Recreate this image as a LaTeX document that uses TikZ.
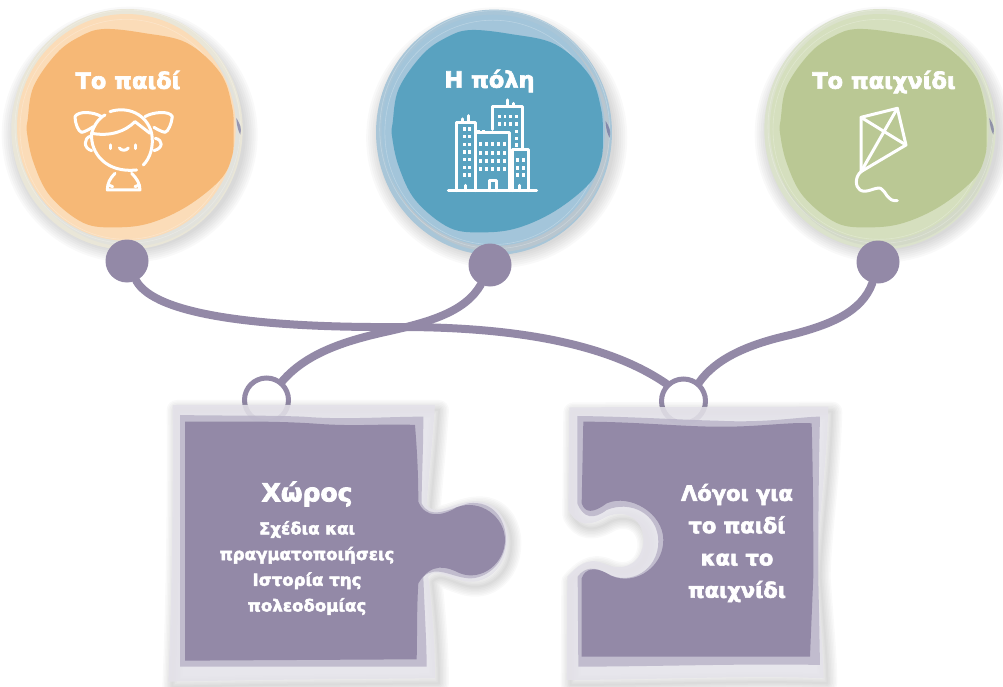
\documentclass[tikz,border=0pt]{standalone}
\usepackage{fontspec}
\setmainfont{DejaVu Sans}[BoldFeatures={FakeBold=3}]
\definecolor{plum}{HTML}{9389A7}
\definecolor{plumMid}{HTML}{BDB8CB}
\definecolor{plumPale}{HTML}{E4E2E9}
\definecolor{orOuter}{HTML}{E9E6D8}
\definecolor{orMid}{HTML}{FBDCB8}
\definecolor{orIn}{HTML}{F6B876}
\definecolor{orBand}{HTML}{E2E2DC}
\definecolor{blOuter}{HTML}{A9C6D8}
\definecolor{blMid}{HTML}{A3C5DA}
\definecolor{blIn}{HTML}{59A2C0}
\definecolor{blBand}{HTML}{B9C6CF}
\definecolor{grOuter}{HTML}{DBE2CC}
\definecolor{grMid}{HTML}{D5DFBE}
\definecolor{grIn}{HTML}{BAC894}
\definecolor{grBand}{HTML}{D3D9C8}
\tikzset{
  dotnode/.style={circle,fill=plum,inner sep=0pt,minimum size=43pt},
  ringnode/.style={circle,draw=plum,line width=5pt,inner sep=0pt,minimum size=44pt},
  link/.style={draw=plum,line width=8pt,line cap=round},
  icon/.style={draw=white,line width=3pt,line cap=round,line join=round},
  win/.style={fill=white,draw=none},
  ballTitle/.style={text=white,font=\bfseries\fontsize{22.5}{26}\selectfont,inner sep=0pt},
  pieceTitle/.style={text=white,font=\bfseries\fontsize{25}{28}\selectfont,inner sep=0pt},
  pieceSmall/.style={text=white,align=center,font=\bfseries\fontsize{16.6}{25.7}\selectfont,inner sep=0pt},
  pieceBig/.style={text=white,align=center,font=\bfseries\fontsize{21}{32.3}\selectfont,inner sep=0pt},
}
% ball: cx, cy, outer, mid, inner, band grey, size factor
\newcommand{\ballshape}[7]{%
  \begin{scope}[shift={(#1,#2)},x=#7*0.3333pt,y=-#7*0.3333pt]
    \foreach \r in {384,378,372,366,360,354,348}{
      \fill[black!60,opacity=.04] (8,20) circle[x radius=\r,y radius=\r];}
    \fill[#3] (0,4) circle[x radius=347,y radius=361];
    \fill[#6] (8,12) circle[x radius=332,y radius=344];
    \fill[#4] (-2,-2) circle[x radius=328,y radius=340];
    \draw[white,opacity=.25,line width=.6pt] (-3,4) circle[x radius=318,y radius=330];
    \draw[white,opacity=.25,line width=.6pt] (2,-4) circle[x radius=338,y radius=350];
    \fill[black!30!blue!30!gray,opacity=.55] (328,-30) .. controls (340,-10) and (345,0) .. (340,20) .. controls (335,10) and (330,0) .. (328,-30) -- cycle;
    \fill[#5] plot[smooth cycle,tension=.6] coordinates {
      (-298,-25) (-280,-125) (-210,-225) (-140,-275) (-70,-297) (50,-285) (180,-255)
      (280,-165) (315,-65) (320,15) (315,85) (280,155) (180,235)
      (70,285) (-30,298) (-130,285) (-230,205) (-280,105) (-300,15)};
  \end{scope}}
% piece outlines in zoom coordinates
\newcommand{\pieceAouter}{(38,105) -- (825,105) .. controls (815,250) and (805,330) .. (800,405) .. controls (830,440) and (860,405) .. (930,395) .. controls (1010,385) and (1045,450) .. (1042,510) .. controls (1040,590) and (985,640) .. (925,635) .. controls (870,630) and (830,590) .. (805,620) .. controls (820,750) and (825,850) .. (825,925) -- (300,930) -- (25,935) .. controls (35,700) and (40,400) .. (38,105) -- cycle}
\newcommand{\pieceAmid}{(60,135) .. controls (200,138) and (300,135) .. (430,140) .. controls (550,150) and (680,140) .. (790,140) .. controls (790,250) and (785,320) .. (785,400) .. controls (810,450) and (860,420) .. (925,400) .. controls (1000,390) and (1038,450) .. (1038,510) .. controls (1035,585) and (975,628) .. (925,625) .. controls (870,620) and (830,585) .. (790,620) .. controls (795,750) and (800,820) .. (800,890) -- (60,890) -- cycle}
\newcommand{\pieceAin}{(75,155) .. controls (220,155) and (350,152) .. (480,162) .. controls (600,170) and (680,160) .. (765,165) .. controls (772,250) and (775,320) .. (775,395) .. controls (795,445) and (845,440) .. (890,412) .. controls (960,385) and (1035,440) .. (1035,510) .. controls (1035,580) and (965,635) .. (900,610) .. controls (860,590) and (815,575) .. (775,640) .. controls (770,720) and (772,800) .. (770,868) -- (75,872) -- cycle}
\newcommand{\pieceBouter}{(58,112) -- (835,110) .. controls (830,300) and (800,500) .. (800,610) .. controls (810,750) and (820,850) .. (820,925) .. controls (600,915) and (300,930) .. (50,930) -- (52,620) .. controls (80,590) and (110,560) .. (160,580) .. controls (210,605) and (270,590) .. (280,520) .. controls (285,450) and (230,415) .. (170,440) .. controls (120,470) and (80,470) .. (55,420) -- cycle}
\newcommand{\pieceBmid}{(82,138) .. controls (250,140) and (400,150) .. (500,152) .. controls (650,160) and (750,140) .. (810,140) .. controls (805,350) and (805,500) .. (805,620) -- (810,885) .. controls (600,880) and (300,890) .. (85,890) -- (83,620) .. controls (105,590) and (135,590) .. (170,610) .. controls (240,650) and (325,600) .. (325,515) .. controls (325,430) and (240,390) .. (170,420) .. controls (130,450) and (100,445) .. (82,400) -- cycle}
\newcommand{\pieceBin}{(100,155) .. controls (250,155) and (400,170) .. (500,170) .. controls (620,172) and (720,155) .. (785,160) .. controls (790,350) and (790,500) .. (790,620) -- (780,860) -- (95,860) -- (95,625) .. controls (105,595) and (135,590) .. (170,610) .. controls (240,655) and (340,600) .. (340,510) .. controls (340,430) and (240,370) .. (170,400) .. controls (130,430) and (105,430) .. (95,400) -- cycle}
\begin{document}
\begin{tikzpicture}[x=1pt,y=-1pt]
\useasboundingbox (0,0) rectangle (1003,687);

% balls
\ballshape{127}{128}{orOuter}{orMid}{orIn}{orBand}{1}
\ballshape{494}{131}{blOuter}{blMid}{blIn}{blBand}{1.02}
\ballshape{880}{128}{grOuter}{grMid}{grIn}{grBand}{1}

% connector nodes
\node[dotnode] (d1) at (127,261) {};
\node[dotnode] (d2) at (490,265) {};
\node[dotnode] (d3) at (878,262) {};
\node[ringnode] (r1) at (266.5,400) {};
\node[ringnode] (r2) at (683.5,401) {};
\coordinate (m1) at (400,327);
\coordinate (m2) at (385,332);
\coordinate (m3) at (790,335);

\draw[link] (d1.-65) .. controls (155,315) and (260,328) .. (m1)
  .. controls (520,327) and (610,345) .. (r2.135);
\draw[link] (d2.-115) .. controls (465,312) and (430,322) .. (m2)
  .. controls (340,342) and (305,355) .. (r1.50);
\draw[link] (d3.-105) .. controls (862,312) and (830,325) .. (m3)
  .. controls (745,345) and (715,360) .. (r2.50);

% pieces
\begin{scope}[shift={(160,370)},x=0.3333pt,y=-0.3333pt]
  \foreach \w in {2,5,8,11,14,17,20}{
    \draw[black!70,opacity=.03,line width=\w pt,line join=round,xshift=4pt,yshift=-5pt] \pieceAouter;}
  \fill[plumPale,opacity=.88] \pieceAouter;
  \fill[plumMid,opacity=.9] \pieceAmid;
  \fill[plum] \pieceAin;
\end{scope}
\begin{scope}[shift={(550,370)},x=0.3333pt,y=-0.3333pt]
  \foreach \w in {2,5,8,11,14,17,20}{
    \draw[black!70,opacity=.03,line width=\w pt,line join=round,xshift=4pt,yshift=-5pt] \pieceBouter;}
  \fill[plumPale,opacity=.88] \pieceBouter;
  \fill[plumMid,opacity=.9] \pieceBmid;
  \fill[plum] \pieceBin;
\end{scope}

% ball titles
\node[ballTitle] (t1) at (128,80) {Το παιδί};
\node[ballTitle] (t2) at (489.5,81) {Η πόλη};
\node[ballTitle] (t3) at (884,82) {Το παιχνίδι};

% girl icon
\begin{scope}[x=0.3333pt,y=-0.3333pt]
  \draw[icon] (330,335) .. controls (380,318) and (440,340) .. (455,400) .. controls (462,440) and (450,475) .. (430,495);
  \draw[icon] (275,400) .. controls (270,460) and (320,520) .. (410,510);
  \draw[icon] (275,400) .. controls (330,410) and (375,395) .. (405,365) -- (450,400);
  \draw[icon] (275,400) .. controls (280,380) and (295,355) .. (315,345);
  \draw[icon] (305,350) .. controls (280,335) and (235,332) .. (225,350) .. controls (225,370) and (235,395) .. (245,397) .. controls (255,395) and (265,390) .. (280,380);
  \draw[icon] (435,350) .. controls (460,335) and (510,332) .. (517,350) .. controls (515,370) and (505,395) .. (495,397) .. controls (485,395) and (475,390) .. (462,382);
  \draw[icon] (272,408) .. controls (250,415) and (250,445) .. (275,452);
  \draw[icon] (466,415) .. controls (490,420) and (490,445) .. (462,452);
  \draw[icon] (333,435) -- (333,446);
  \draw[icon] (407,435) -- (407,446);
  \draw[icon] (358,444) .. controls (365,453) and (378,453) .. (385,444);
  \draw[icon] (345,520) .. controls (330,535) and (322,550) .. (322,570) -- (420,570) .. controls (420,550) and (410,535) .. (395,520);
  \draw[icon] (328,556) -- (338,560);
  \draw[icon] (415,556) -- (405,560);
\end{scope}

% city icon
\begin{scope}[shift={(370,0)},x=0.3333pt,y=-0.3333pt]
  \draw[icon] (235,572) -- (500,572);
  \draw[icon] (260,572) -- (260,367) -- (318,367) -- (318,572);
  \draw[icon] (278,367) -- (278,357);
  \draw[icon] (296,367) -- (296,347);
  \draw[icon] (318,398) -- (420,398) -- (420,572);
  \draw[icon] (368,388) -- (368,320) -- (458,320) -- (458,445);
  \draw[icon] (412,320) -- (412,300);
  \draw[icon] (430,320) -- (430,310);
  \draw[icon] (427,572) -- (427,450) -- (475,450) -- (475,572);
  \draw[icon] (358,572) -- (358,542) -- (380,542) -- (380,572);
  \draw[icon] (288,572) -- (288,556);
  \draw[icon] (448,572) -- (448,556);
  \foreach \y in {387,410,433,456,479,502,525}{
    \foreach \x in {283,298}{\fill[win] (\x-5,\y-5) rectangle (\x+5,\y+5);}}
  \foreach \y in {432,458,482,506}{
    \foreach \x in {332,350,368,386,404}{\fill[win] (\x-5,\y-6) rectangle (\x+5,\y+6);}}
  \foreach \y in {350,372}{
    \foreach \x in {388,405,422,440}{\fill[win] (\x-4,\y-5) rectangle (\x+4,\y+5);}}
  \foreach \y in {395,415,435}{\fill[win] (436,\y-5) rectangle (444,\y+5);}
  \foreach \y in {480,503,525}{
    \foreach \x in {443,460}{\fill[win] (\x-5,\y-6) rectangle (\x+5,\y+6);}}
  \fill[win] (320,391) rectangle (329,400);
  \fill[win] (336,389) rectangle (345,398);
\end{scope}

% kite icon
\begin{scope}[shift={(750,0)},x=0.3333pt,y=-0.3333pt]
  \draw[icon] (333,352) -- (442,325) -- (468,435) -- (333,515) -- cycle;
  \draw[icon] (333,352) -- (468,435);
  \draw[icon] (442,325) -- (333,515);
  \draw[icon] (333,515) .. controls (315,530) and (315,560) .. (330,570) .. controls (350,582) and (375,560) .. (392,565) .. controls (410,575) and (410,605) .. (442,602);
\end{scope}

% piece texts
\node[pieceTitle] (h1) at (307,494) {Χώρος};
\node[pieceSmall] (b1) at (307,568) {Σχέδια και\\πραγματοποιήσεις\\Ιστορία της\\πολεοδομίας};
\node[pieceBig] (b2) at (737,543) {Λόγοι για\\το παιδί\\και το\\παιχνίδι};
\end{tikzpicture}
\end{document}
